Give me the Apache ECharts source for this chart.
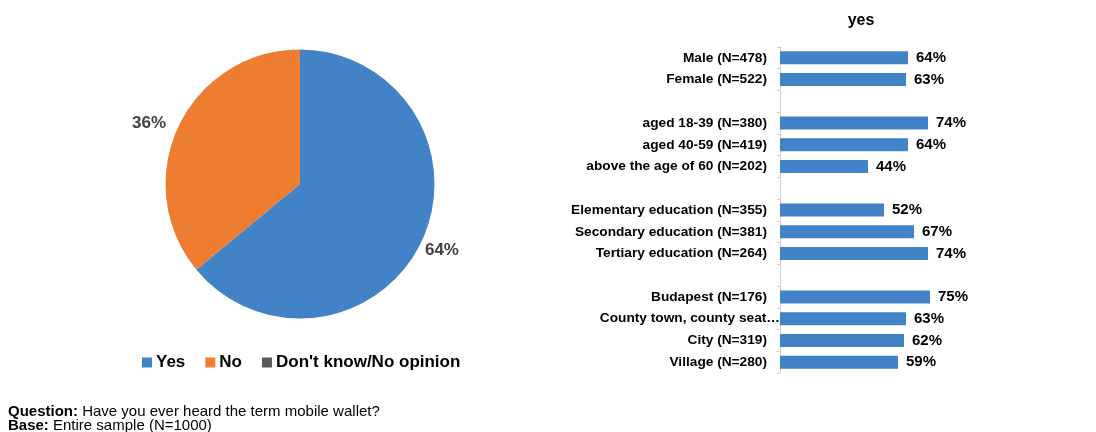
<!DOCTYPE html>
<html>
<head>
<meta charset="utf-8">
<script src="https://cdn.jsdelivr.net/npm/echarts@6/dist/echarts.min.js"></script>
<style>
  html, body { margin: 0; padding: 0; background: #fff; }
  #chart { width: 1096px; height: 432px; }
</style>
</head>
<body>
<div id="chart"></div>
<script>
// Overall answer split
const pieNames = ['Yes', 'No', "Don't know/No opinion"];
const pieValues = [64, 36, 0];
const pieColors = ['#4183C6', '#ED7D31', '#595959'];

// "yes" share by subgroup; empty names are spacer rows between groups
const groupNames = [
  'Male (N=478)', 'Female (N=522)', '',
  'aged 18-39 (N=380)', 'aged 40-59 (N=419)', 'above the age of 60 (N=202)', '',
  'Elementary education (N=355)', 'Secondary education (N=381)', 'Tertiary education (N=264)', '',
  'Budapest (N=176)', 'County town, county seat…', 'City (N=319)', 'Village (N=280)'
];
const groupYes = [64, 63, null, 74, 64, 44, null, 52, 67, 74, null, 75, 63, 62, 59];

const barTitle = 'yes';
const questionText = 'Have you ever heard the term mobile wallet?';
const baseText = 'Entire sample (N=1000)';

const FONT = 'Liberation Sans, Arial, sans-serif';
const chart = echarts.init(document.getElementById('chart'), null, { renderer: 'canvas' });

// the truncated long label runs right up to the axis line
const yCategories = groupNames.map(n =>
  n.endsWith('…') ? { value: n, textStyle: { padding: [0, -13, 0, 0] } } : n
);

chart.setOption({
  animation: false,
  textStyle: { fontFamily: FONT },
  title: [
    {
      text: barTitle,
      left: 861, top: 13, textAlign: 'center', padding: 0,
      textStyle: { fontFamily: FONT, fontSize: 16, fontWeight: 'bold', color: '#000' }
    },
    {
      text: '{b|Question:} ' + questionText + '\n{b|Base:} ' + baseText,
      left: 8, top: 405, padding: 0,
      textStyle: {
        fontFamily: FONT, fontSize: 15, fontWeight: 'normal', color: '#000', lineHeight: 14,
        rich: { b: { fontFamily: FONT, fontSize: 15, fontWeight: 'bold', color: '#000', lineHeight: 14 } }
      }
    }
  ],
  legend: {
    data: pieNames,
    left: 142, top: 354, padding: 0,
    icon: 'rect', itemWidth: 10, itemHeight: 10, itemGap: 20,
    selectedMode: false,
    textStyle: { fontFamily: FONT, fontSize: 17, fontWeight: 'bold', color: '#000', padding: [0, 0, 0, -1] }
  },
  grid: { left: 780, top: 47, width: 200, height: 326, containLabel: false },
  xAxis: { type: 'value', min: 0, max: 100, show: false },
  yAxis: {
    type: 'category',
    data: yCategories,
    inverse: true,
    axisLine: { show: true, lineStyle: { color: '#D0D0D0', width: 1 } },
    axisTick: { show: true, length: 3, lineStyle: { color: '#D0D0D0' } },
    axisLabel: {
      interval: 0, margin: 13,
      fontFamily: FONT, fontSize: 13.7, fontWeight: 'bold', color: '#000'
    },
    splitLine: { show: false }
  },
  series: [
    {
      type: 'pie',
      center: [300, 184],
      radius: 134.5,
      startAngle: 90,
      clockwise: true,
      emphasis: { disabled: true },
      data: pieNames.map((n, i) => ({
        name: n, value: pieValues[i],
        itemStyle: { color: pieColors[i] },
        label: { show: pieValues[i] > 0 }
      })),
      label: {
        position: 'outside',
        formatter: '{c}%',
        fontFamily: FONT, fontSize: 17, fontWeight: 'bold', color: '#404040'
      },
      labelLine: { show: false, length: 8, length2: 0 },
      labelLayout: function (p) {
        if (p.dataIndex === 0) return { dx: -9, dy: 6 };
      }
    },
    {
      type: 'bar',
      data: groupYes,
      barWidth: 13,
      itemStyle: { color: '#4183C6' },
      label: {
        show: true, position: 'right', distance: 8,
        formatter: p => (p.value == null ? '' : p.value + '%'),
        fontFamily: FONT, fontSize: 15, fontWeight: 'bold', color: '#000'
      },
      emphasis: { disabled: true }
    }
  ]
});
</script>
</body>
</html>
